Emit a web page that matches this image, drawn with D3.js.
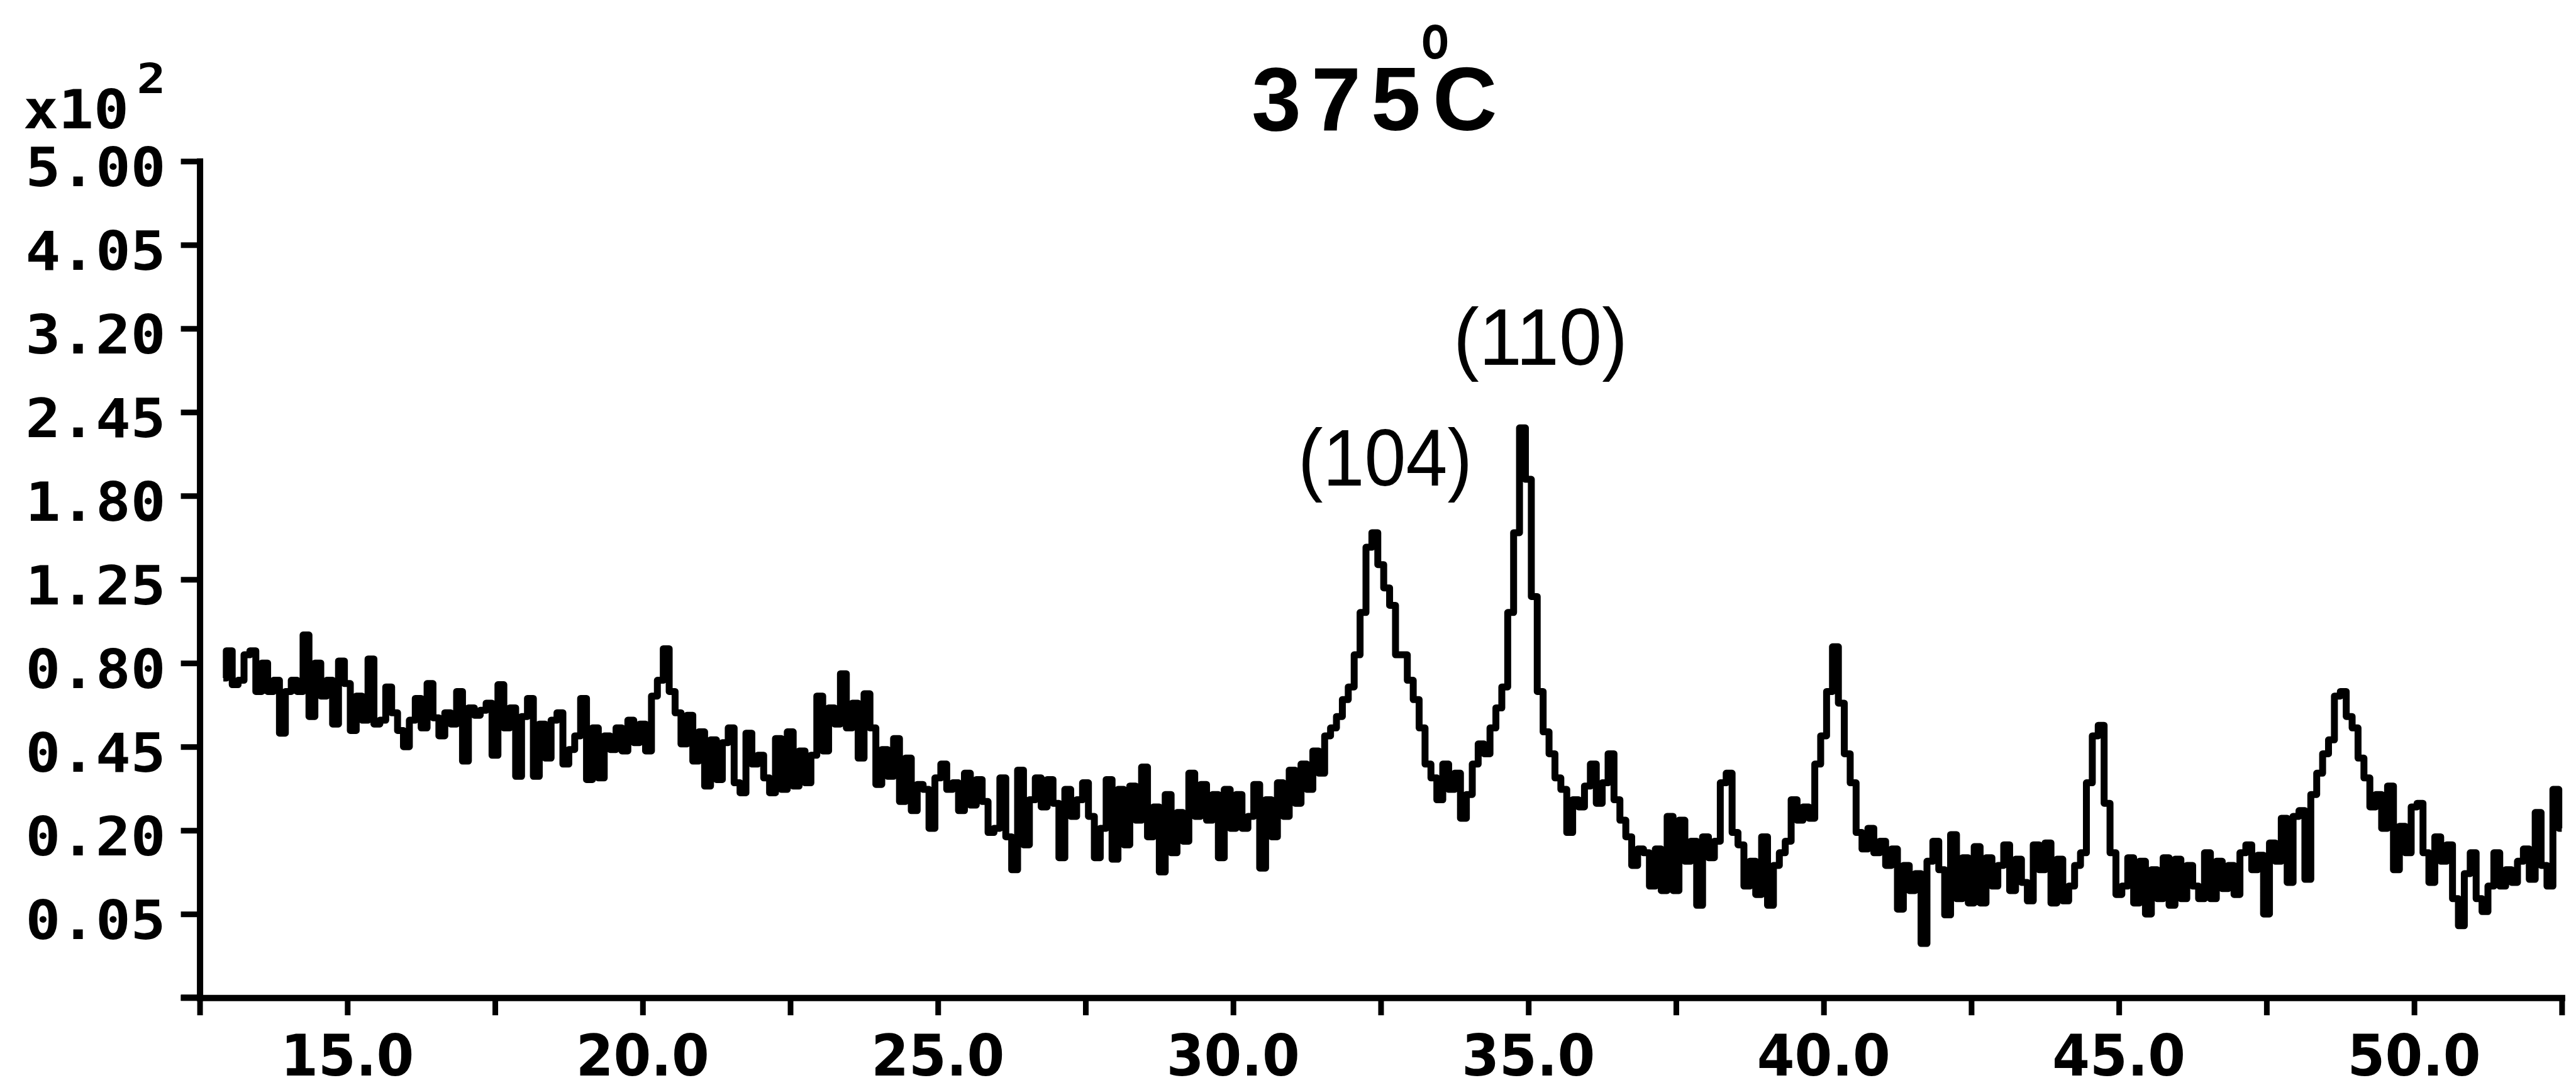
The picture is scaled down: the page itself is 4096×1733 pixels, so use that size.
<!DOCTYPE html>
<html><head><meta charset="utf-8">
<script src="https://cdn.jsdelivr.net/npm/d3@7"></script>
<style>html,body{margin:0;padding:0;background:#fff;overflow:hidden}svg{display:block}</style>
</head><body>
<svg id="chart" width="4096" height="1733"></svg>
<script>
// ---- data (intensity in units of 10^2 counts, 2-theta sampled every 0.1 deg from 12.9) ----
const twoThetaStart = 12.9;
const twoThetaStep = 0.1;
const seg_12_9_to_19_2 = [0.73,0.86,0.70,0.72,0.84,0.86,0.67,0.80,0.67,0.72,
 0.50,0.67,0.72,0.67,0.94,0.565,0.80,0.65,0.72,0.535,
 0.81,0.705,0.51,0.65,0.55,0.82,0.535,0.55,0.69,0.58,
 0.51,0.45,0.55,0.64,0.52,0.705,0.56,0.49,0.58,0.535,
 0.67,0.40,0.60,0.57,0.59,0.62,0.42,0.70,0.52,0.60,
 0.35,0.565,0.64,0.35,0.535,0.41,0.55,0.58,0.39,0.44,
 0.49,0.64,0.34,0.52];
const seg_19_3_to_25_9 = [0.345,0.49,0.44,0.52,0.435,0.55,0.465,0.535,0.435,0.65,
 0.72,0.87,0.67,0.58,0.46,0.57,0.40,0.505,0.32,0.475,
 0.34,0.465,0.52,0.33,0.30,0.50,0.39,0.42,0.345,0.30,
 0.48,0.31,0.505,0.32,0.435,0.33,0.42,0.65,0.435,0.60,
 0.535,0.75,0.52,0.62,0.41,0.66,0.52,0.325,0.44,0.35,
 0.48,0.275,0.41,0.25,0.325,0.31,0.205,0.345,0.39,0.31,
 0.33,0.25,0.36,0.265,0.34,0.275,0.195];
const seg_26_0_to_32_8 = [0.205,0.345,0.185,0.117,0.37,0.167,0.28,0.345,0.26,0.34,
 0.27,0.14,0.31,0.235,0.28,0.33,0.235,0.14,0.205,0.34,
 0.137,0.31,0.167,0.32,0.225,0.38,0.185,0.26,0.113,0.295,
 0.15,0.245,0.175,0.36,0.235,0.325,0.225,0.295,0.14,0.31,
 0.205,0.295,0.205,0.235,0.325,0.12,0.28,0.185,0.33,0.235,
 0.37,0.27,0.39,0.31,0.435,0.36,0.49,0.52,0.565,0.635,
 0.69,0.84,1.06,1.45,1.545,1.34,1.20,1.10,0.84];
const seg_32_9_to_39_6 = [0.84,0.72,0.635,0.52,0.39,0.345,0.28,0.39,0.31,0.36,
 0.23,0.295,0.39,0.46,0.425,0.52,0.60,0.69,1.06,1.545,
 2.32,1.92,1.15,0.67,0.505,0.425,0.345,0.31,0.195,0.28,
 0.26,0.32,0.39,0.27,0.33,0.425,0.28,0.225,0.185,0.125,
 0.158,0.15,0.089,0.158,0.082,0.235,0.082,0.225,0.133,0.175,
 0.061,0.185,0.14,0.175,0.33,0.36,0.195,0.167,0.089,0.133,
 0.076,0.185,0.061,0.125,0.15,0.175,0.28,0.225];
const seg_39_7_to_46_4 = [0.26,0.23,0.39,0.49,0.67,0.88,0.62,0.425,0.33,0.195,
 0.158,0.205,0.15,0.175,0.125,0.158,0.056,0.125,0.082,0.11,
 0.021,0.133,0.175,0.117,0.049,0.19,0.07,0.14,0.064,0.163,
 0.064,0.14,0.089,0.125,0.167,0.082,0.137,0.095,0.067,0.167,
 0.117,0.171,0.064,0.137,0.067,0.089,0.125,0.15,0.33,0.49,
 0.53,0.27,0.15,0.076,0.089,0.14,0.064,0.133,0.05,0.117,
 0.07,0.14,0.061,0.137,0.07,0.125,0.089,0.07];
const seg_46_5_to_52_5 = [0.15,0.07,0.133,0.085,0.125,0.076,0.15,0.167,0.117,0.145,
 0.05,0.171,0.133,0.23,0.095,0.235,0.25,0.10,0.295,0.36,
 0.425,0.475,0.65,0.67,0.565,0.52,0.41,0.345,0.26,0.295,
 0.205,0.32,0.117,0.21,0.15,0.26,0.27,0.15,0.095,0.185,
 0.133,0.167,0.07,0.037,0.11,0.15,0.07,0.053,0.089,0.15,
 0.089,0.117,0.095,0.133,0.158,0.10,0.245,0.125,0.089,0.31,
 0.205];

const yTickValues = [0, 0.05, 0.20, 0.45, 0.80, 1.25, 1.80, 2.45, 3.20, 4.05, 5.00];
const xTickValues = [12.5, 15, 17.5, 20, 22.5, 25, 27.5, 30, 32.5, 35, 37.5, 40, 42.5, 45, 47.5, 50, 52.5];
const xLabelValues = [15, 20, 25, 30, 35, 40, 45, 50];
const titleNumber = "375";
const titleDegree = "o";
const titleUnit = "C";
const scaleLabel = "x10";
const scaleExponent = "2";
const peakLabels = ["(104)", "(110)"];
const peakLabelAngles = [31.10, 33.73];

// ---- build ----
const intensity = [].concat(seg_12_9_to_19_2, seg_19_3_to_25_9, seg_26_0_to_32_8,
                            seg_32_9_to_39_6, seg_39_7_to_46_4, seg_46_5_to_52_5);
const data = intensity.map((v, i) => ({t: +(twoThetaStart + i * twoThetaStep).toFixed(2), v}));

const S = 0.863;
const svg = d3.select("#chart");
svg.append("rect").attr("width", 4096).attr("height", 1733).attr("fill", "#fff");

const x = d3.scaleLinear().domain([12.5, 52.5]).range([368 * S, 4720 * S]);
const y = d3.scaleSqrt().domain([0, 5]).range([1838 * S, 297 * S]);

// axes
const gy = svg.append("g").attr("transform", `translate(${x(12.5)},0)`)
  .call(d3.axisLeft(y).tickValues(yTickValues).tickSize(30).tickSizeOuter(0).tickFormat(""));
const gx = svg.append("g").attr("transform", `translate(0,${y(0)})`)
  .call(d3.axisBottom(x).tickValues(xTickValues).tickSize(28).tickSizeOuter(0).tickFormat(""));
[gy, gx].forEach(g => {
  g.select(".domain").attr("stroke", "#000").attr("stroke-width", 10).attr("stroke-linecap", "square");
  g.selectAll(".tick line").attr("stroke", "#000").attr("stroke-width", 9);
});
svg.append("line")
  .attr("x1", x(12.5) - 30).attr("x2", x(12.5))
  .attr("y1", y(0)).attr("y2", y(0))
  .attr("stroke", "#000").attr("stroke-width", 10);

// y tick labels
const fmt = d3.format(".2f");
svg.append("g").selectAll("text").data(yTickValues.filter(d => d > 0)).join("text")
  .attr("x", 47 * S)
  .attr("y", d => y(d) + 40)
  .attr("font-family", "'DejaVu Sans Mono', monospace")
  .attr("font-weight", "bold")
  .attr("font-size", 86)
  .attr("textLength", 223)
  .attr("lengthAdjust", "spacingAndGlyphs")
  .attr("fill", "#000")
  .text(d => fmt(d));

// scale factor label (x10 with superscript exponent)
const sl = svg.append("text")
  .attr("font-family", "'DejaVu Sans Mono', monospace").attr("font-weight", "bold");
sl.append("tspan").attr("x", 43 * S).attr("y", 236 * S)
  .attr("font-size", 86).attr("textLength", 168).attr("lengthAdjust", "spacingAndGlyphs")
  .text(scaleLabel);
sl.append("tspan").attr("x", 252 * S).attr("y", 172 * S)
  .attr("font-size", 66).attr("textLength", 46).attr("lengthAdjust", "spacingAndGlyphs")
  .text(scaleExponent);

// x tick labels
svg.append("g").selectAll("text").data(xLabelValues).join("text")
  .attr("x", d => x(d))
  .attr("y", 1710)
  .attr("text-anchor", "middle")
  .attr("font-family", "'DejaVu Sans', sans-serif")
  .attr("font-weight", "bold")
  .attr("font-size", 90)
  .attr("textLength", 212)
  .attr("lengthAdjust", "spacingAndGlyphs")
  .text(d => d3.format(".1f")(d));

// title: 375 with degree mark above C, one text element
const tt = svg.append("text")
  .attr("font-family", "'Liberation Sans', Arial, sans-serif").attr("font-weight", "bold");
tt.append("tspan").attr("x", 1990).attr("y", 207)
  .attr("font-size", 142).attr("letter-spacing", 16).text(titleNumber);
tt.append("tspan").attr("x", 2260).attr("y", 93)
  .attr("font-size", 100).attr("letter-spacing", 0)
  .attr("textLength", 44).attr("lengthAdjust", "spacingAndGlyphs").text(titleDegree);
tt.append("tspan").attr("x", 2278).attr("y", 207)
  .attr("font-size", 142).attr("letter-spacing", 0).text(titleUnit);

// peak labels
const peakBaselines = [895 * S, 672 * S];
svg.append("g").selectAll("text").data(peakLabels).join("text")
  .attr("x", (d, i) => x(peakLabelAngles[i]))
  .attr("y", (d, i) => peakBaselines[i])
  .attr("font-family", "'Liberation Sans', Arial, sans-serif")
  .attr("font-size", 128)
  .attr("textLength", 277)
  .attr("lengthAdjust", "spacingAndGlyphs")
  .text(d => d);

// diffraction trace
const line = d3.line().x(d => x(d.t)).y(d => y(d.v)).curve(d3.curveStep);
svg.append("path").datum(data)
  .attr("d", line)
  .attr("fill", "none")
  .attr("stroke", "#000")
  .attr("stroke-width", 11)
  .attr("stroke-linejoin", "round");
</script>
</body></html>
